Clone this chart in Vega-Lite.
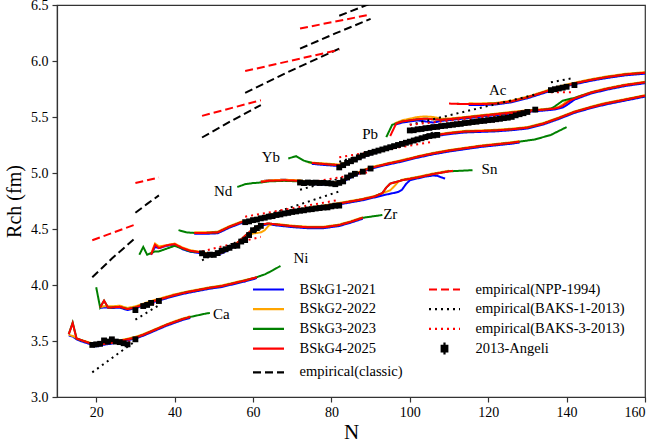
{
  "$schema": "https://vega.github.io/schema/vega-lite/v6.json",
  "width": 588,
  "height": 392,
  "autosize": {"type": "none"},
  "padding": {"left": 57, "top": 5, "right": 11, "bottom": 46},
  "config": {
    "font": "Liberation Serif, Times New Roman, serif",
    "view": {"stroke": "#333333", "strokeWidth": 1.2},
    "text": {"font": "Liberation Serif, Times New Roman, serif"},
    "axis": {
      "grid": false,
      "domainColor": "#333333",
      "domainWidth": 1.2,
      "tickColor": "#333333",
      "tickWidth": 1.2,
      "tickSize": 5,
      "labelColor": "#000000",
      "titleColor": "#000000",
      "labelFont": "Liberation Serif, Times New Roman, serif",
      "titleFont": "Liberation Serif, Times New Roman, serif",
      "labelFontSize": 14,
      "titleFontSize": 20,
      "titleFontWeight": "normal"
    },
    "legend": {
      "labelFont": "Liberation Serif, Times New Roman, serif",
      "titleFont": "Liberation Serif, Times New Roman, serif"
    }
  },
  "datasets": {
    "curves": [
      {"s":"BSkG1-2021","c":"Ca","N":13,"R":3.55},{"s":"BSkG1-2021","c":"Ca","N":14,"R":3.54},{"s":"BSkG1-2021","c":"Ca","N":15,"R":3.515},{"s":"BSkG1-2021","c":"Ca","N":16,"R":3.5},{"s":"BSkG1-2021","c":"Ca","N":18,"R":3.477},{"s":"BSkG1-2021","c":"Ca","N":20,"R":3.452},{"s":"BSkG1-2021","c":"Ca","N":22,"R":3.467},{"s":"BSkG1-2021","c":"Ca","N":24,"R":3.477},{"s":"BSkG1-2021","c":"Ca","N":26,"R":3.492},{"s":"BSkG1-2021","c":"Ca","N":28,"R":3.507},{"s":"BSkG1-2021","c":"Ca","N":30,"R":3.522},{"s":"BSkG1-2021","c":"Ca","N":32,"R":3.547},{"s":"BSkG1-2021","c":"Ca","N":34,"R":3.577},{"s":"BSkG1-2021","c":"Ca","N":36,"R":3.607},{"s":"BSkG1-2021","c":"Ca","N":38,"R":3.637},{"s":"BSkG1-2021","c":"Ca","N":40,"R":3.662},{"s":"BSkG1-2021","c":"Ca","N":42,"R":3.687},{"s":"BSkG1-2021","c":"Ca","N":44,"R":3.707},
      {"s":"BSkG1-2021","c":"Ni","N":21,"R":3.795},{"s":"BSkG1-2021","c":"Ni","N":22,"R":3.8},{"s":"BSkG1-2021","c":"Ni","N":24,"R":3.795},{"s":"BSkG1-2021","c":"Ni","N":26,"R":3.797},{"s":"BSkG1-2021","c":"Ni","N":28,"R":3.777},{"s":"BSkG1-2021","c":"Ni","N":30,"R":3.792},{"s":"BSkG1-2021","c":"Ni","N":32,"R":3.817},{"s":"BSkG1-2021","c":"Ni","N":34,"R":3.842},{"s":"BSkG1-2021","c":"Ni","N":36,"R":3.862},{"s":"BSkG1-2021","c":"Ni","N":38,"R":3.882},{"s":"BSkG1-2021","c":"Ni","N":40,"R":3.902},{"s":"BSkG1-2021","c":"Ni","N":43,"R":3.927},{"s":"BSkG1-2021","c":"Ni","N":46,"R":3.947},{"s":"BSkG1-2021","c":"Ni","N":49,"R":3.967},{"s":"BSkG1-2021","c":"Ni","N":52,"R":3.982},{"s":"BSkG1-2021","c":"Ni","N":55,"R":4.007},{"s":"BSkG1-2021","c":"Ni","N":58,"R":4.032},{"s":"BSkG1-2021","c":"Ni","N":61,"R":4.062},
      {"s":"BSkG1-2021","c":"Zr","N":34,"R":4.27},{"s":"BSkG1-2021","c":"Zr","N":35,"R":4.34},{"s":"BSkG1-2021","c":"Zr","N":36,"R":4.33},{"s":"BSkG1-2021","c":"Zr","N":38,"R":4.35},{"s":"BSkG1-2021","c":"Zr","N":40,"R":4.36},{"s":"BSkG1-2021","c":"Zr","N":42,"R":4.32},{"s":"BSkG1-2021","c":"Zr","N":44,"R":4.297},{"s":"BSkG1-2021","c":"Zr","N":46,"R":4.287},{"s":"BSkG1-2021","c":"Zr","N":48,"R":4.272},{"s":"BSkG1-2021","c":"Zr","N":50,"R":4.272},{"s":"BSkG1-2021","c":"Zr","N":52,"R":4.282},{"s":"BSkG1-2021","c":"Zr","N":54,"R":4.317},{"s":"BSkG1-2021","c":"Zr","N":56,"R":4.367},{"s":"BSkG1-2021","c":"Zr","N":58,"R":4.43},{"s":"BSkG1-2021","c":"Zr","N":60,"R":4.49},{"s":"BSkG1-2021","c":"Zr","N":62,"R":4.532},{"s":"BSkG1-2021","c":"Zr","N":64,"R":4.542},{"s":"BSkG1-2021","c":"Zr","N":66,"R":4.532},{"s":"BSkG1-2021","c":"Zr","N":70,"R":4.517},{"s":"BSkG1-2021","c":"Zr","N":74,"R":4.507},{"s":"BSkG1-2021","c":"Zr","N":78,"R":4.507},{"s":"BSkG1-2021","c":"Zr","N":82,"R":4.527},{"s":"BSkG1-2021","c":"Zr","N":85,"R":4.557},{"s":"BSkG1-2021","c":"Zr","N":88,"R":4.592},
      {"s":"BSkG1-2021","c":"Sn","N":45,"R":4.457},{"s":"BSkG1-2021","c":"Sn","N":48,"R":4.457},{"s":"BSkG1-2021","c":"Sn","N":51,"R":4.462},{"s":"BSkG1-2021","c":"Sn","N":54,"R":4.512},{"s":"BSkG1-2021","c":"Sn","N":57,"R":4.552},{"s":"BSkG1-2021","c":"Sn","N":60,"R":4.577},{"s":"BSkG1-2021","c":"Sn","N":64,"R":4.612},{"s":"BSkG1-2021","c":"Sn","N":68,"R":4.637},{"s":"BSkG1-2021","c":"Sn","N":72,"R":4.662},{"s":"BSkG1-2021","c":"Sn","N":76,"R":4.687},{"s":"BSkG1-2021","c":"Sn","N":80,"R":4.707},{"s":"BSkG1-2021","c":"Sn","N":84,"R":4.732},{"s":"BSkG1-2021","c":"Sn","N":88,"R":4.757},{"s":"BSkG1-2021","c":"Sn","N":91,"R":4.782},{"s":"BSkG1-2021","c":"Sn","N":93,"R":4.8},{"s":"BSkG1-2021","c":"Sn","N":95,"R":4.815},{"s":"BSkG1-2021","c":"Sn","N":97,"R":4.83},{"s":"BSkG1-2021","c":"Sn","N":98,"R":4.85},{"s":"BSkG1-2021","c":"Sn","N":99,"R":4.9},{"s":"BSkG1-2021","c":"Sn","N":100,"R":4.935},{"s":"BSkG1-2021","c":"Sn","N":102,"R":4.952},{"s":"BSkG1-2021","c":"Sn","N":104,"R":4.968},{"s":"BSkG1-2021","c":"Sn","N":106,"R":4.978},{"s":"BSkG1-2021","c":"Sn","N":107,"R":4.975},{"s":"BSkG1-2021","c":"Sn","N":108,"R":4.962},{"s":"BSkG1-2021","c":"Sn","N":109,"R":4.95},
      {"s":"BSkG1-2021","c":"Nd","N":62,"R":4.925},{"s":"BSkG1-2021","c":"Nd","N":64,"R":4.935},{"s":"BSkG1-2021","c":"Nd","N":68,"R":4.94},{"s":"BSkG1-2021","c":"Nd","N":72,"R":4.925},{"s":"BSkG1-2021","c":"Nd","N":74,"R":4.902},{"s":"BSkG1-2021","c":"Nd","N":78,"R":4.897},{"s":"BSkG1-2021","c":"Nd","N":82,"R":4.907},{"s":"BSkG1-2021","c":"Nd","N":84,"R":4.942},{"s":"BSkG1-2021","c":"Nd","N":86,"R":4.977},{"s":"BSkG1-2021","c":"Nd","N":88,"R":5.012},{"s":"BSkG1-2021","c":"Nd","N":90,"R":5.037},{"s":"BSkG1-2021","c":"Nd","N":94,"R":5.072},{"s":"BSkG1-2021","c":"Nd","N":98,"R":5.102},{"s":"BSkG1-2021","c":"Nd","N":102,"R":5.137},{"s":"BSkG1-2021","c":"Nd","N":106,"R":5.167},{"s":"BSkG1-2021","c":"Nd","N":110,"R":5.192},{"s":"BSkG1-2021","c":"Nd","N":114,"R":5.212},{"s":"BSkG1-2021","c":"Nd","N":118,"R":5.232},{"s":"BSkG1-2021","c":"Nd","N":122,"R":5.247},{"s":"BSkG1-2021","c":"Nd","N":126,"R":5.262},{"s":"BSkG1-2021","c":"Nd","N":128,"R":5.272},
      {"s":"BSkG1-2021","c":"Yb","N":75,"R":5.082},{"s":"BSkG1-2021","c":"Yb","N":78,"R":5.072},{"s":"BSkG1-2021","c":"Yb","N":82,"R":5.062},{"s":"BSkG1-2021","c":"Yb","N":84,"R":5.082},{"s":"BSkG1-2021","c":"Yb","N":86,"R":5.112},{"s":"BSkG1-2021","c":"Yb","N":88,"R":5.142},{"s":"BSkG1-2021","c":"Yb","N":90,"R":5.167},{"s":"BSkG1-2021","c":"Yb","N":94,"R":5.212},{"s":"BSkG1-2021","c":"Yb","N":98,"R":5.252},{"s":"BSkG1-2021","c":"Yb","N":102,"R":5.292},{"s":"BSkG1-2021","c":"Yb","N":106,"R":5.327},{"s":"BSkG1-2021","c":"Yb","N":110,"R":5.347},{"s":"BSkG1-2021","c":"Yb","N":114,"R":5.362},{"s":"BSkG1-2021","c":"Yb","N":118,"R":5.367},{"s":"BSkG1-2021","c":"Yb","N":122,"R":5.372},{"s":"BSkG1-2021","c":"Yb","N":126,"R":5.382},{"s":"BSkG1-2021","c":"Yb","N":130,"R":5.397},{"s":"BSkG1-2021","c":"Yb","N":134,"R":5.432},{"s":"BSkG1-2021","c":"Yb","N":138,"R":5.482},{"s":"BSkG1-2021","c":"Yb","N":142,"R":5.537},{"s":"BSkG1-2021","c":"Yb","N":146,"R":5.577},{"s":"BSkG1-2021","c":"Yb","N":150,"R":5.612},{"s":"BSkG1-2021","c":"Yb","N":155,"R":5.647},{"s":"BSkG1-2021","c":"Yb","N":160,"R":5.682},
      {"s":"BSkG1-2021","c":"Pb","N":96,"R":5.43},{"s":"BSkG1-2021","c":"Pb","N":98,"R":5.45},{"s":"BSkG1-2021","c":"Pb","N":100,"R":5.46},{"s":"BSkG1-2021","c":"Pb","N":102,"R":5.47},{"s":"BSkG1-2021","c":"Pb","N":104,"R":5.46},{"s":"BSkG1-2021","c":"Pb","N":106,"R":5.45},{"s":"BSkG1-2021","c":"Pb","N":108,"R":5.465},{"s":"BSkG1-2021","c":"Pb","N":110,"R":5.472},{"s":"BSkG1-2021","c":"Pb","N":114,"R":5.487},{"s":"BSkG1-2021","c":"Pb","N":118,"R":5.502},{"s":"BSkG1-2021","c":"Pb","N":122,"R":5.517},{"s":"BSkG1-2021","c":"Pb","N":126,"R":5.532},{"s":"BSkG1-2021","c":"Pb","N":130,"R":5.547},{"s":"BSkG1-2021","c":"Pb","N":134,"R":5.557},{"s":"BSkG1-2021","c":"Pb","N":137,"R":5.567},{"s":"BSkG1-2021","c":"Pb","N":138,"R":5.575},{"s":"BSkG1-2021","c":"Pb","N":139,"R":5.585},{"s":"BSkG1-2021","c":"Pb","N":140,"R":5.605},{"s":"BSkG1-2021","c":"Pb","N":141,"R":5.63},{"s":"BSkG1-2021","c":"Pb","N":142,"R":5.655},{"s":"BSkG1-2021","c":"Pb","N":146,"R":5.707},{"s":"BSkG1-2021","c":"Pb","N":150,"R":5.742},{"s":"BSkG1-2021","c":"Pb","N":155,"R":5.777},{"s":"BSkG1-2021","c":"Pb","N":160,"R":5.802},
      {"s":"BSkG1-2021","c":"Ac","N":115,"R":5.607},{"s":"BSkG1-2021","c":"Ac","N":118,"R":5.607},{"s":"BSkG1-2021","c":"Ac","N":122,"R":5.612},{"s":"BSkG1-2021","c":"Ac","N":126,"R":5.632},{"s":"BSkG1-2021","c":"Ac","N":130,"R":5.667},{"s":"BSkG1-2021","c":"Ac","N":134,"R":5.712},{"s":"BSkG1-2021","c":"Ac","N":138,"R":5.757},{"s":"BSkG1-2021","c":"Ac","N":142,"R":5.792},{"s":"BSkG1-2021","c":"Ac","N":146,"R":5.822},{"s":"BSkG1-2021","c":"Ac","N":150,"R":5.847},{"s":"BSkG1-2021","c":"Ac","N":155,"R":5.872},{"s":"BSkG1-2021","c":"Ac","N":160,"R":5.887},

      {"s":"BSkG2-2022","c":"Ca","N":13,"R":3.555},{"s":"BSkG2-2022","c":"Ca","N":14,"R":3.545},{"s":"BSkG2-2022","c":"Ca","N":15,"R":3.525},{"s":"BSkG2-2022","c":"Ca","N":16,"R":3.51},{"s":"BSkG2-2022","c":"Ca","N":18,"R":3.49},{"s":"BSkG2-2022","c":"Ca","N":20,"R":3.47},{"s":"BSkG2-2022","c":"Ca","N":22,"R":3.48},{"s":"BSkG2-2022","c":"Ca","N":24,"R":3.492},{"s":"BSkG2-2022","c":"Ca","N":26,"R":3.506},{"s":"BSkG2-2022","c":"Ca","N":28,"R":3.521},{"s":"BSkG2-2022","c":"Ca","N":30,"R":3.537},{"s":"BSkG2-2022","c":"Ca","N":32,"R":3.561},{"s":"BSkG2-2022","c":"Ca","N":34,"R":3.59},{"s":"BSkG2-2022","c":"Ca","N":36,"R":3.62},{"s":"BSkG2-2022","c":"Ca","N":38,"R":3.65},{"s":"BSkG2-2022","c":"Ca","N":40,"R":3.676},{"s":"BSkG2-2022","c":"Ca","N":42,"R":3.7},{"s":"BSkG2-2022","c":"Ca","N":44,"R":3.72},
      {"s":"BSkG2-2022","c":"Ni","N":21,"R":3.8},{"s":"BSkG2-2022","c":"Ni","N":22,"R":3.81},{"s":"BSkG2-2022","c":"Ni","N":24,"R":3.81},{"s":"BSkG2-2022","c":"Ni","N":26,"R":3.815},{"s":"BSkG2-2022","c":"Ni","N":28,"R":3.795},{"s":"BSkG2-2022","c":"Ni","N":30,"R":3.81},{"s":"BSkG2-2022","c":"Ni","N":32,"R":3.833},{"s":"BSkG2-2022","c":"Ni","N":34,"R":3.857},{"s":"BSkG2-2022","c":"Ni","N":36,"R":3.877},{"s":"BSkG2-2022","c":"Ni","N":38,"R":3.897},{"s":"BSkG2-2022","c":"Ni","N":40,"R":3.917},{"s":"BSkG2-2022","c":"Ni","N":43,"R":3.94},{"s":"BSkG2-2022","c":"Ni","N":46,"R":3.96},{"s":"BSkG2-2022","c":"Ni","N":49,"R":3.98},{"s":"BSkG2-2022","c":"Ni","N":52,"R":3.996},{"s":"BSkG2-2022","c":"Ni","N":55,"R":4.02},{"s":"BSkG2-2022","c":"Ni","N":58,"R":4.045},{"s":"BSkG2-2022","c":"Ni","N":60,"R":4.06},
      {"s":"BSkG2-2022","c":"Zr","N":34,"R":4.28},{"s":"BSkG2-2022","c":"Zr","N":35,"R":4.37},{"s":"BSkG2-2022","c":"Zr","N":36,"R":4.345},{"s":"BSkG2-2022","c":"Zr","N":38,"R":4.355},{"s":"BSkG2-2022","c":"Zr","N":40,"R":4.37},{"s":"BSkG2-2022","c":"Zr","N":42,"R":4.335},{"s":"BSkG2-2022","c":"Zr","N":44,"R":4.31},{"s":"BSkG2-2022","c":"Zr","N":46,"R":4.3},{"s":"BSkG2-2022","c":"Zr","N":48,"R":4.285},{"s":"BSkG2-2022","c":"Zr","N":50,"R":4.285},{"s":"BSkG2-2022","c":"Zr","N":52,"R":4.296},{"s":"BSkG2-2022","c":"Zr","N":54,"R":4.33},{"s":"BSkG2-2022","c":"Zr","N":56,"R":4.38},{"s":"BSkG2-2022","c":"Zr","N":58,"R":4.43},{"s":"BSkG2-2022","c":"Zr","N":60,"R":4.46},{"s":"BSkG2-2022","c":"Zr","N":62,"R":4.47},{"s":"BSkG2-2022","c":"Zr","N":63,"R":4.49},{"s":"BSkG2-2022","c":"Zr","N":64,"R":4.53},{"s":"BSkG2-2022","c":"Zr","N":65,"R":4.545},{"s":"BSkG2-2022","c":"Zr","N":66,"R":4.545},{"s":"BSkG2-2022","c":"Zr","N":70,"R":4.53},{"s":"BSkG2-2022","c":"Zr","N":74,"R":4.52},{"s":"BSkG2-2022","c":"Zr","N":78,"R":4.52},{"s":"BSkG2-2022","c":"Zr","N":82,"R":4.54},{"s":"BSkG2-2022","c":"Zr","N":85,"R":4.57},{"s":"BSkG2-2022","c":"Zr","N":88,"R":4.605},
      {"s":"BSkG2-2022","c":"Sn","N":45,"R":4.47},{"s":"BSkG2-2022","c":"Sn","N":48,"R":4.47},{"s":"BSkG2-2022","c":"Sn","N":51,"R":4.476},{"s":"BSkG2-2022","c":"Sn","N":54,"R":4.526},{"s":"BSkG2-2022","c":"Sn","N":57,"R":4.566},{"s":"BSkG2-2022","c":"Sn","N":60,"R":4.59},{"s":"BSkG2-2022","c":"Sn","N":64,"R":4.626},{"s":"BSkG2-2022","c":"Sn","N":68,"R":4.651},{"s":"BSkG2-2022","c":"Sn","N":72,"R":4.676},{"s":"BSkG2-2022","c":"Sn","N":76,"R":4.7},{"s":"BSkG2-2022","c":"Sn","N":80,"R":4.72},{"s":"BSkG2-2022","c":"Sn","N":84,"R":4.745},{"s":"BSkG2-2022","c":"Sn","N":88,"R":4.77},{"s":"BSkG2-2022","c":"Sn","N":91,"R":4.795},{"s":"BSkG2-2022","c":"Sn","N":93,"R":4.82},{"s":"BSkG2-2022","c":"Sn","N":95,"R":4.845},{"s":"BSkG2-2022","c":"Sn","N":96,"R":4.88},{"s":"BSkG2-2022","c":"Sn","N":97,"R":4.92},{"s":"BSkG2-2022","c":"Sn","N":98,"R":4.94},{"s":"BSkG2-2022","c":"Sn","N":102,"R":4.966},{"s":"BSkG2-2022","c":"Sn","N":106,"R":4.996},{"s":"BSkG2-2022","c":"Sn","N":110,"R":5.02},
      {"s":"BSkG2-2022","c":"Nd","N":62,"R":4.925},{"s":"BSkG2-2022","c":"Nd","N":64,"R":4.935},{"s":"BSkG2-2022","c":"Nd","N":68,"R":4.94},{"s":"BSkG2-2022","c":"Nd","N":72,"R":4.935},{"s":"BSkG2-2022","c":"Nd","N":74,"R":4.915},{"s":"BSkG2-2022","c":"Nd","N":78,"R":4.91},{"s":"BSkG2-2022","c":"Nd","N":82,"R":4.92},{"s":"BSkG2-2022","c":"Nd","N":84,"R":4.955},{"s":"BSkG2-2022","c":"Nd","N":86,"R":4.99},{"s":"BSkG2-2022","c":"Nd","N":88,"R":5.025},{"s":"BSkG2-2022","c":"Nd","N":90,"R":5.05},{"s":"BSkG2-2022","c":"Nd","N":94,"R":5.085},{"s":"BSkG2-2022","c":"Nd","N":98,"R":5.115},{"s":"BSkG2-2022","c":"Nd","N":102,"R":5.15},{"s":"BSkG2-2022","c":"Nd","N":106,"R":5.18},{"s":"BSkG2-2022","c":"Nd","N":110,"R":5.205},{"s":"BSkG2-2022","c":"Nd","N":114,"R":5.225},{"s":"BSkG2-2022","c":"Nd","N":118,"R":5.245},{"s":"BSkG2-2022","c":"Nd","N":122,"R":5.26},{"s":"BSkG2-2022","c":"Nd","N":126,"R":5.275},{"s":"BSkG2-2022","c":"Nd","N":128,"R":5.285},
      {"s":"BSkG2-2022","c":"Yb","N":74,"R":5.095},{"s":"BSkG2-2022","c":"Yb","N":78,"R":5.086},{"s":"BSkG2-2022","c":"Yb","N":82,"R":5.076},{"s":"BSkG2-2022","c":"Yb","N":84,"R":5.096},{"s":"BSkG2-2022","c":"Yb","N":86,"R":5.126},{"s":"BSkG2-2022","c":"Yb","N":88,"R":5.156},{"s":"BSkG2-2022","c":"Yb","N":90,"R":5.18},{"s":"BSkG2-2022","c":"Yb","N":94,"R":5.226},{"s":"BSkG2-2022","c":"Yb","N":98,"R":5.266},{"s":"BSkG2-2022","c":"Yb","N":102,"R":5.306},{"s":"BSkG2-2022","c":"Yb","N":106,"R":5.34},{"s":"BSkG2-2022","c":"Yb","N":110,"R":5.36},{"s":"BSkG2-2022","c":"Yb","N":114,"R":5.376},{"s":"BSkG2-2022","c":"Yb","N":118,"R":5.38},{"s":"BSkG2-2022","c":"Yb","N":122,"R":5.386},{"s":"BSkG2-2022","c":"Yb","N":126,"R":5.396},{"s":"BSkG2-2022","c":"Yb","N":130,"R":5.41},{"s":"BSkG2-2022","c":"Yb","N":134,"R":5.446},{"s":"BSkG2-2022","c":"Yb","N":138,"R":5.496},{"s":"BSkG2-2022","c":"Yb","N":142,"R":5.55},{"s":"BSkG2-2022","c":"Yb","N":146,"R":5.59},{"s":"BSkG2-2022","c":"Yb","N":150,"R":5.626},{"s":"BSkG2-2022","c":"Yb","N":155,"R":5.66},{"s":"BSkG2-2022","c":"Yb","N":160,"R":5.695},
      {"s":"BSkG2-2022","c":"Pb","N":96,"R":5.44},{"s":"BSkG2-2022","c":"Pb","N":98,"R":5.47},{"s":"BSkG2-2022","c":"Pb","N":100,"R":5.485},{"s":"BSkG2-2022","c":"Pb","N":102,"R":5.5},{"s":"BSkG2-2022","c":"Pb","N":104,"R":5.505},{"s":"BSkG2-2022","c":"Pb","N":106,"R":5.5},{"s":"BSkG2-2022","c":"Pb","N":108,"R":5.485},{"s":"BSkG2-2022","c":"Pb","N":110,"R":5.486},{"s":"BSkG2-2022","c":"Pb","N":114,"R":5.5},{"s":"BSkG2-2022","c":"Pb","N":118,"R":5.516},{"s":"BSkG2-2022","c":"Pb","N":122,"R":5.53},{"s":"BSkG2-2022","c":"Pb","N":126,"R":5.546},{"s":"BSkG2-2022","c":"Pb","N":130,"R":5.56},{"s":"BSkG2-2022","c":"Pb","N":134,"R":5.57},{"s":"BSkG2-2022","c":"Pb","N":137,"R":5.58},{"s":"BSkG2-2022","c":"Pb","N":138,"R":5.59},{"s":"BSkG2-2022","c":"Pb","N":139,"R":5.61},{"s":"BSkG2-2022","c":"Pb","N":140,"R":5.64},{"s":"BSkG2-2022","c":"Pb","N":142,"R":5.67},{"s":"BSkG2-2022","c":"Pb","N":146,"R":5.72},{"s":"BSkG2-2022","c":"Pb","N":150,"R":5.755},{"s":"BSkG2-2022","c":"Pb","N":155,"R":5.79},{"s":"BSkG2-2022","c":"Pb","N":160,"R":5.815},
      {"s":"BSkG2-2022","c":"Ac","N":115,"R":5.622},{"s":"BSkG2-2022","c":"Ac","N":118,"R":5.621},{"s":"BSkG2-2022","c":"Ac","N":122,"R":5.626},{"s":"BSkG2-2022","c":"Ac","N":126,"R":5.646},{"s":"BSkG2-2022","c":"Ac","N":130,"R":5.681},{"s":"BSkG2-2022","c":"Ac","N":134,"R":5.726},{"s":"BSkG2-2022","c":"Ac","N":138,"R":5.771},{"s":"BSkG2-2022","c":"Ac","N":142,"R":5.806},{"s":"BSkG2-2022","c":"Ac","N":146,"R":5.836},{"s":"BSkG2-2022","c":"Ac","N":150,"R":5.861},{"s":"BSkG2-2022","c":"Ac","N":155,"R":5.886},{"s":"BSkG2-2022","c":"Ac","N":160,"R":5.9},

      {"s":"BSkG3-2023","c":"Ca","N":13,"R":3.56},{"s":"BSkG3-2023","c":"Ca","N":14,"R":3.665},{"s":"BSkG3-2023","c":"Ca","N":15,"R":3.52},{"s":"BSkG3-2023","c":"Ca","N":16,"R":3.51},{"s":"BSkG3-2023","c":"Ca","N":18,"R":3.485},{"s":"BSkG3-2023","c":"Ca","N":20,"R":3.46},{"s":"BSkG3-2023","c":"Ca","N":22,"R":3.475},{"s":"BSkG3-2023","c":"Ca","N":24,"R":3.485},{"s":"BSkG3-2023","c":"Ca","N":26,"R":3.5},{"s":"BSkG3-2023","c":"Ca","N":28,"R":3.515},{"s":"BSkG3-2023","c":"Ca","N":30,"R":3.53},{"s":"BSkG3-2023","c":"Ca","N":32,"R":3.555},{"s":"BSkG3-2023","c":"Ca","N":34,"R":3.585},{"s":"BSkG3-2023","c":"Ca","N":36,"R":3.615},{"s":"BSkG3-2023","c":"Ca","N":38,"R":3.645},{"s":"BSkG3-2023","c":"Ca","N":40,"R":3.67},{"s":"BSkG3-2023","c":"Ca","N":42,"R":3.695},{"s":"BSkG3-2023","c":"Ca","N":44,"R":3.715},{"s":"BSkG3-2023","c":"Ca","N":46,"R":3.73},{"s":"BSkG3-2023","c":"Ca","N":48,"R":3.745},{"s":"BSkG3-2023","c":"Ca","N":49,"R":3.75},
      {"s":"BSkG3-2023","c":"Ni","N":20,"R":3.98},{"s":"BSkG3-2023","c":"Ni","N":21,"R":3.8},{"s":"BSkG3-2023","c":"Ni","N":22,"R":3.86},{"s":"BSkG3-2023","c":"Ni","N":23,"R":3.8},{"s":"BSkG3-2023","c":"Ni","N":24,"R":3.8},{"s":"BSkG3-2023","c":"Ni","N":26,"R":3.805},{"s":"BSkG3-2023","c":"Ni","N":28,"R":3.785},{"s":"BSkG3-2023","c":"Ni","N":30,"R":3.8},{"s":"BSkG3-2023","c":"Ni","N":32,"R":3.825},{"s":"BSkG3-2023","c":"Ni","N":34,"R":3.85},{"s":"BSkG3-2023","c":"Ni","N":36,"R":3.87},{"s":"BSkG3-2023","c":"Ni","N":38,"R":3.89},{"s":"BSkG3-2023","c":"Ni","N":40,"R":3.91},{"s":"BSkG3-2023","c":"Ni","N":43,"R":3.935},{"s":"BSkG3-2023","c":"Ni","N":46,"R":3.955},{"s":"BSkG3-2023","c":"Ni","N":49,"R":3.975},{"s":"BSkG3-2023","c":"Ni","N":52,"R":3.99},{"s":"BSkG3-2023","c":"Ni","N":55,"R":4.015},{"s":"BSkG3-2023","c":"Ni","N":58,"R":4.04},{"s":"BSkG3-2023","c":"Ni","N":61,"R":4.07},{"s":"BSkG3-2023","c":"Ni","N":63,"R":4.095},{"s":"BSkG3-2023","c":"Ni","N":65,"R":4.13},{"s":"BSkG3-2023","c":"Ni","N":67,"R":4.17},
      {"s":"BSkG3-2023","c":"Zr","N":31,"R":4.27},{"s":"BSkG3-2023","c":"Zr","N":32,"R":4.34},{"s":"BSkG3-2023","c":"Zr","N":33,"R":4.27},{"s":"BSkG3-2023","c":"Zr","N":34,"R":4.285},{"s":"BSkG3-2023","c":"Zr","N":35,"R":4.3},{"s":"BSkG3-2023","c":"Zr","N":36,"R":4.3},{"s":"BSkG3-2023","c":"Zr","N":38,"R":4.325},{"s":"BSkG3-2023","c":"Zr","N":40,"R":4.35},{"s":"BSkG3-2023","c":"Zr","N":42,"R":4.325},{"s":"BSkG3-2023","c":"Zr","N":44,"R":4.3},{"s":"BSkG3-2023","c":"Zr","N":46,"R":4.295},{"s":"BSkG3-2023","c":"Zr","N":48,"R":4.28},{"s":"BSkG3-2023","c":"Zr","N":50,"R":4.28},{"s":"BSkG3-2023","c":"Zr","N":52,"R":4.29},{"s":"BSkG3-2023","c":"Zr","N":54,"R":4.325},{"s":"BSkG3-2023","c":"Zr","N":56,"R":4.375},{"s":"BSkG3-2023","c":"Zr","N":58,"R":4.44},{"s":"BSkG3-2023","c":"Zr","N":60,"R":4.5},{"s":"BSkG3-2023","c":"Zr","N":62,"R":4.54},{"s":"BSkG3-2023","c":"Zr","N":64,"R":4.55},{"s":"BSkG3-2023","c":"Zr","N":66,"R":4.54},{"s":"BSkG3-2023","c":"Zr","N":70,"R":4.525},{"s":"BSkG3-2023","c":"Zr","N":74,"R":4.515},{"s":"BSkG3-2023","c":"Zr","N":78,"R":4.515},{"s":"BSkG3-2023","c":"Zr","N":82,"R":4.535},{"s":"BSkG3-2023","c":"Zr","N":85,"R":4.565},{"s":"BSkG3-2023","c":"Zr","N":88,"R":4.6},{"s":"BSkG3-2023","c":"Zr","N":90,"R":4.61},{"s":"BSkG3-2023","c":"Zr","N":93,"R":4.625},
      {"s":"BSkG3-2023","c":"Sn","N":41,"R":4.49},{"s":"BSkG3-2023","c":"Sn","N":43,"R":4.47},{"s":"BSkG3-2023","c":"Sn","N":45,"R":4.465},{"s":"BSkG3-2023","c":"Sn","N":48,"R":4.465},{"s":"BSkG3-2023","c":"Sn","N":51,"R":4.47},{"s":"BSkG3-2023","c":"Sn","N":54,"R":4.52},{"s":"BSkG3-2023","c":"Sn","N":57,"R":4.56},{"s":"BSkG3-2023","c":"Sn","N":60,"R":4.585},{"s":"BSkG3-2023","c":"Sn","N":64,"R":4.62},{"s":"BSkG3-2023","c":"Sn","N":68,"R":4.645},{"s":"BSkG3-2023","c":"Sn","N":72,"R":4.67},{"s":"BSkG3-2023","c":"Sn","N":76,"R":4.695},{"s":"BSkG3-2023","c":"Sn","N":80,"R":4.715},{"s":"BSkG3-2023","c":"Sn","N":84,"R":4.74},{"s":"BSkG3-2023","c":"Sn","N":88,"R":4.765},{"s":"BSkG3-2023","c":"Sn","N":91,"R":4.79},{"s":"BSkG3-2023","c":"Sn","N":93,"R":4.82},{"s":"BSkG3-2023","c":"Sn","N":94,"R":4.87},{"s":"BSkG3-2023","c":"Sn","N":95,"R":4.905},{"s":"BSkG3-2023","c":"Sn","N":98,"R":4.935},{"s":"BSkG3-2023","c":"Sn","N":102,"R":4.96},{"s":"BSkG3-2023","c":"Sn","N":106,"R":4.99},{"s":"BSkG3-2023","c":"Sn","N":110,"R":5.015},{"s":"BSkG3-2023","c":"Sn","N":113,"R":5.02},{"s":"BSkG3-2023","c":"Sn","N":116,"R":5.025},
      {"s":"BSkG3-2023","c":"Nd","N":56,"R":4.875},{"s":"BSkG3-2023","c":"Nd","N":58,"R":4.9},{"s":"BSkG3-2023","c":"Nd","N":60,"R":4.91},{"s":"BSkG3-2023","c":"Nd","N":62,"R":4.915},{"s":"BSkG3-2023","c":"Nd","N":64,"R":4.925},{"s":"BSkG3-2023","c":"Nd","N":68,"R":4.93},{"s":"BSkG3-2023","c":"Nd","N":72,"R":4.925},{"s":"BSkG3-2023","c":"Nd","N":74,"R":4.91},{"s":"BSkG3-2023","c":"Nd","N":78,"R":4.905},{"s":"BSkG3-2023","c":"Nd","N":82,"R":4.915},{"s":"BSkG3-2023","c":"Nd","N":84,"R":4.95},{"s":"BSkG3-2023","c":"Nd","N":86,"R":4.985},{"s":"BSkG3-2023","c":"Nd","N":88,"R":5.02},{"s":"BSkG3-2023","c":"Nd","N":90,"R":5.045},{"s":"BSkG3-2023","c":"Nd","N":94,"R":5.08},{"s":"BSkG3-2023","c":"Nd","N":98,"R":5.11},{"s":"BSkG3-2023","c":"Nd","N":102,"R":5.145},{"s":"BSkG3-2023","c":"Nd","N":106,"R":5.175},{"s":"BSkG3-2023","c":"Nd","N":110,"R":5.2},{"s":"BSkG3-2023","c":"Nd","N":114,"R":5.22},{"s":"BSkG3-2023","c":"Nd","N":118,"R":5.24},{"s":"BSkG3-2023","c":"Nd","N":122,"R":5.255},{"s":"BSkG3-2023","c":"Nd","N":126,"R":5.27},{"s":"BSkG3-2023","c":"Nd","N":128,"R":5.28},{"s":"BSkG3-2023","c":"Nd","N":132,"R":5.3},{"s":"BSkG3-2023","c":"Nd","N":136,"R":5.34},{"s":"BSkG3-2023","c":"Nd","N":140,"R":5.41},
      {"s":"BSkG3-2023","c":"Yb","N":69,"R":5.13},{"s":"BSkG3-2023","c":"Yb","N":71,"R":5.15},{"s":"BSkG3-2023","c":"Yb","N":73,"R":5.11},{"s":"BSkG3-2023","c":"Yb","N":75,"R":5.09},{"s":"BSkG3-2023","c":"Yb","N":78,"R":5.08},{"s":"BSkG3-2023","c":"Yb","N":82,"R":5.07},{"s":"BSkG3-2023","c":"Yb","N":84,"R":5.09},{"s":"BSkG3-2023","c":"Yb","N":86,"R":5.12},{"s":"BSkG3-2023","c":"Yb","N":88,"R":5.15},{"s":"BSkG3-2023","c":"Yb","N":90,"R":5.175},{"s":"BSkG3-2023","c":"Yb","N":94,"R":5.22},{"s":"BSkG3-2023","c":"Yb","N":98,"R":5.26},{"s":"BSkG3-2023","c":"Yb","N":102,"R":5.3},{"s":"BSkG3-2023","c":"Yb","N":106,"R":5.335},{"s":"BSkG3-2023","c":"Yb","N":110,"R":5.355},{"s":"BSkG3-2023","c":"Yb","N":114,"R":5.37},{"s":"BSkG3-2023","c":"Yb","N":118,"R":5.375},{"s":"BSkG3-2023","c":"Yb","N":122,"R":5.38},{"s":"BSkG3-2023","c":"Yb","N":126,"R":5.39},{"s":"BSkG3-2023","c":"Yb","N":130,"R":5.405},{"s":"BSkG3-2023","c":"Yb","N":134,"R":5.44},{"s":"BSkG3-2023","c":"Yb","N":138,"R":5.49},{"s":"BSkG3-2023","c":"Yb","N":142,"R":5.545},{"s":"BSkG3-2023","c":"Yb","N":146,"R":5.585},{"s":"BSkG3-2023","c":"Yb","N":150,"R":5.62},{"s":"BSkG3-2023","c":"Yb","N":155,"R":5.655},{"s":"BSkG3-2023","c":"Yb","N":160,"R":5.69},
      {"s":"BSkG3-2023","c":"Pb","N":94,"R":5.32},{"s":"BSkG3-2023","c":"Pb","N":95.5,"R":5.43},{"s":"BSkG3-2023","c":"Pb","N":98,"R":5.46},{"s":"BSkG3-2023","c":"Pb","N":100,"R":5.47},{"s":"BSkG3-2023","c":"Pb","N":102,"R":5.48},{"s":"BSkG3-2023","c":"Pb","N":104,"R":5.485},{"s":"BSkG3-2023","c":"Pb","N":106,"R":5.48},{"s":"BSkG3-2023","c":"Pb","N":108,"R":5.475},{"s":"BSkG3-2023","c":"Pb","N":110,"R":5.48},{"s":"BSkG3-2023","c":"Pb","N":114,"R":5.495},{"s":"BSkG3-2023","c":"Pb","N":118,"R":5.51},{"s":"BSkG3-2023","c":"Pb","N":122,"R":5.525},{"s":"BSkG3-2023","c":"Pb","N":126,"R":5.54},{"s":"BSkG3-2023","c":"Pb","N":130,"R":5.555},{"s":"BSkG3-2023","c":"Pb","N":134,"R":5.565},{"s":"BSkG3-2023","c":"Pb","N":136,"R":5.575},{"s":"BSkG3-2023","c":"Pb","N":137,"R":5.595},{"s":"BSkG3-2023","c":"Pb","N":138,"R":5.62},{"s":"BSkG3-2023","c":"Pb","N":139,"R":5.645},{"s":"BSkG3-2023","c":"Pb","N":140,"R":5.655},{"s":"BSkG3-2023","c":"Pb","N":142,"R":5.67},{"s":"BSkG3-2023","c":"Pb","N":146,"R":5.715},{"s":"BSkG3-2023","c":"Pb","N":150,"R":5.75},{"s":"BSkG3-2023","c":"Pb","N":155,"R":5.785},{"s":"BSkG3-2023","c":"Pb","N":160,"R":5.81},
      {"s":"BSkG3-2023","c":"Ac","N":112,"R":5.618},{"s":"BSkG3-2023","c":"Ac","N":114,"R":5.615},{"s":"BSkG3-2023","c":"Ac","N":118,"R":5.615},{"s":"BSkG3-2023","c":"Ac","N":122,"R":5.62},{"s":"BSkG3-2023","c":"Ac","N":126,"R":5.64},{"s":"BSkG3-2023","c":"Ac","N":130,"R":5.675},{"s":"BSkG3-2023","c":"Ac","N":134,"R":5.72},{"s":"BSkG3-2023","c":"Ac","N":138,"R":5.765},{"s":"BSkG3-2023","c":"Ac","N":142,"R":5.8},{"s":"BSkG3-2023","c":"Ac","N":146,"R":5.83},{"s":"BSkG3-2023","c":"Ac","N":150,"R":5.855},{"s":"BSkG3-2023","c":"Ac","N":155,"R":5.88},{"s":"BSkG3-2023","c":"Ac","N":160,"R":5.895},

      {"s":"BSkG4-2025","c":"Ca","N":13,"R":3.56},{"s":"BSkG4-2025","c":"Ca","N":14,"R":3.66},{"s":"BSkG4-2025","c":"Ca","N":15,"R":3.52},{"s":"BSkG4-2025","c":"Ca","N":16,"R":3.51},{"s":"BSkG4-2025","c":"Ca","N":18,"R":3.485},{"s":"BSkG4-2025","c":"Ca","N":20,"R":3.46},{"s":"BSkG4-2025","c":"Ca","N":22,"R":3.475},{"s":"BSkG4-2025","c":"Ca","N":24,"R":3.485},{"s":"BSkG4-2025","c":"Ca","N":26,"R":3.5},{"s":"BSkG4-2025","c":"Ca","N":28,"R":3.515},{"s":"BSkG4-2025","c":"Ca","N":30,"R":3.53},{"s":"BSkG4-2025","c":"Ca","N":32,"R":3.555},{"s":"BSkG4-2025","c":"Ca","N":34,"R":3.585},{"s":"BSkG4-2025","c":"Ca","N":36,"R":3.615},{"s":"BSkG4-2025","c":"Ca","N":38,"R":3.645},{"s":"BSkG4-2025","c":"Ca","N":40,"R":3.67},{"s":"BSkG4-2025","c":"Ca","N":42,"R":3.695},{"s":"BSkG4-2025","c":"Ca","N":44,"R":3.715},
      {"s":"BSkG4-2025","c":"Ni","N":21,"R":3.8},{"s":"BSkG4-2025","c":"Ni","N":22,"R":3.86},{"s":"BSkG4-2025","c":"Ni","N":23,"R":3.8},{"s":"BSkG4-2025","c":"Ni","N":24,"R":3.8},{"s":"BSkG4-2025","c":"Ni","N":26,"R":3.805},{"s":"BSkG4-2025","c":"Ni","N":28,"R":3.785},{"s":"BSkG4-2025","c":"Ni","N":30,"R":3.8},{"s":"BSkG4-2025","c":"Ni","N":32,"R":3.825},{"s":"BSkG4-2025","c":"Ni","N":34,"R":3.85},{"s":"BSkG4-2025","c":"Ni","N":36,"R":3.87},{"s":"BSkG4-2025","c":"Ni","N":38,"R":3.89},{"s":"BSkG4-2025","c":"Ni","N":40,"R":3.91},{"s":"BSkG4-2025","c":"Ni","N":43,"R":3.935},{"s":"BSkG4-2025","c":"Ni","N":46,"R":3.955},{"s":"BSkG4-2025","c":"Ni","N":49,"R":3.975},{"s":"BSkG4-2025","c":"Ni","N":52,"R":3.99},{"s":"BSkG4-2025","c":"Ni","N":55,"R":4.015},{"s":"BSkG4-2025","c":"Ni","N":58,"R":4.04},{"s":"BSkG4-2025","c":"Ni","N":61,"R":4.07},
      {"s":"BSkG4-2025","c":"Zr","N":34,"R":4.27},{"s":"BSkG4-2025","c":"Zr","N":35,"R":4.36},{"s":"BSkG4-2025","c":"Zr","N":36,"R":4.33},{"s":"BSkG4-2025","c":"Zr","N":38,"R":4.355},{"s":"BSkG4-2025","c":"Zr","N":40,"R":4.365},{"s":"BSkG4-2025","c":"Zr","N":42,"R":4.33},{"s":"BSkG4-2025","c":"Zr","N":44,"R":4.305},{"s":"BSkG4-2025","c":"Zr","N":46,"R":4.295},{"s":"BSkG4-2025","c":"Zr","N":48,"R":4.28},{"s":"BSkG4-2025","c":"Zr","N":50,"R":4.28},{"s":"BSkG4-2025","c":"Zr","N":52,"R":4.29},{"s":"BSkG4-2025","c":"Zr","N":54,"R":4.325},{"s":"BSkG4-2025","c":"Zr","N":56,"R":4.375},{"s":"BSkG4-2025","c":"Zr","N":58,"R":4.44},{"s":"BSkG4-2025","c":"Zr","N":60,"R":4.5},{"s":"BSkG4-2025","c":"Zr","N":62,"R":4.54},{"s":"BSkG4-2025","c":"Zr","N":64,"R":4.55},{"s":"BSkG4-2025","c":"Zr","N":66,"R":4.54},{"s":"BSkG4-2025","c":"Zr","N":70,"R":4.525},{"s":"BSkG4-2025","c":"Zr","N":74,"R":4.515},{"s":"BSkG4-2025","c":"Zr","N":78,"R":4.515},{"s":"BSkG4-2025","c":"Zr","N":82,"R":4.535},{"s":"BSkG4-2025","c":"Zr","N":85,"R":4.565},{"s":"BSkG4-2025","c":"Zr","N":88,"R":4.6},
      {"s":"BSkG4-2025","c":"Sn","N":45,"R":4.465},{"s":"BSkG4-2025","c":"Sn","N":48,"R":4.465},{"s":"BSkG4-2025","c":"Sn","N":51,"R":4.47},{"s":"BSkG4-2025","c":"Sn","N":54,"R":4.52},{"s":"BSkG4-2025","c":"Sn","N":57,"R":4.56},{"s":"BSkG4-2025","c":"Sn","N":60,"R":4.585},{"s":"BSkG4-2025","c":"Sn","N":64,"R":4.62},{"s":"BSkG4-2025","c":"Sn","N":68,"R":4.645},{"s":"BSkG4-2025","c":"Sn","N":72,"R":4.67},{"s":"BSkG4-2025","c":"Sn","N":76,"R":4.695},{"s":"BSkG4-2025","c":"Sn","N":80,"R":4.715},{"s":"BSkG4-2025","c":"Sn","N":84,"R":4.74},{"s":"BSkG4-2025","c":"Sn","N":88,"R":4.765},{"s":"BSkG4-2025","c":"Sn","N":91,"R":4.79},{"s":"BSkG4-2025","c":"Sn","N":93,"R":4.82},{"s":"BSkG4-2025","c":"Sn","N":94,"R":4.87},{"s":"BSkG4-2025","c":"Sn","N":95,"R":4.905},{"s":"BSkG4-2025","c":"Sn","N":98,"R":4.935},{"s":"BSkG4-2025","c":"Sn","N":102,"R":4.96},{"s":"BSkG4-2025","c":"Sn","N":106,"R":4.99},{"s":"BSkG4-2025","c":"Sn","N":110,"R":5.015},{"s":"BSkG4-2025","c":"Sn","N":111,"R":5.02},
      {"s":"BSkG4-2025","c":"Nd","N":62,"R":4.92},{"s":"BSkG4-2025","c":"Nd","N":64,"R":4.93},{"s":"BSkG4-2025","c":"Nd","N":68,"R":4.935},{"s":"BSkG4-2025","c":"Nd","N":72,"R":4.93},{"s":"BSkG4-2025","c":"Nd","N":74,"R":4.91},{"s":"BSkG4-2025","c":"Nd","N":78,"R":4.905},{"s":"BSkG4-2025","c":"Nd","N":82,"R":4.915},{"s":"BSkG4-2025","c":"Nd","N":84,"R":4.95},{"s":"BSkG4-2025","c":"Nd","N":86,"R":4.985},{"s":"BSkG4-2025","c":"Nd","N":88,"R":5.02},{"s":"BSkG4-2025","c":"Nd","N":90,"R":5.045},{"s":"BSkG4-2025","c":"Nd","N":94,"R":5.08},{"s":"BSkG4-2025","c":"Nd","N":98,"R":5.11},{"s":"BSkG4-2025","c":"Nd","N":102,"R":5.145},{"s":"BSkG4-2025","c":"Nd","N":106,"R":5.175},{"s":"BSkG4-2025","c":"Nd","N":110,"R":5.2},{"s":"BSkG4-2025","c":"Nd","N":114,"R":5.22},{"s":"BSkG4-2025","c":"Nd","N":118,"R":5.24},{"s":"BSkG4-2025","c":"Nd","N":122,"R":5.255},{"s":"BSkG4-2025","c":"Nd","N":126,"R":5.27},{"s":"BSkG4-2025","c":"Nd","N":128,"R":5.28},
      {"s":"BSkG4-2025","c":"Yb","N":75,"R":5.09},{"s":"BSkG4-2025","c":"Yb","N":78,"R":5.08},{"s":"BSkG4-2025","c":"Yb","N":82,"R":5.07},{"s":"BSkG4-2025","c":"Yb","N":84,"R":5.09},{"s":"BSkG4-2025","c":"Yb","N":86,"R":5.12},{"s":"BSkG4-2025","c":"Yb","N":88,"R":5.15},{"s":"BSkG4-2025","c":"Yb","N":90,"R":5.175},{"s":"BSkG4-2025","c":"Yb","N":94,"R":5.22},{"s":"BSkG4-2025","c":"Yb","N":98,"R":5.26},{"s":"BSkG4-2025","c":"Yb","N":102,"R":5.3},{"s":"BSkG4-2025","c":"Yb","N":106,"R":5.335},{"s":"BSkG4-2025","c":"Yb","N":110,"R":5.355},{"s":"BSkG4-2025","c":"Yb","N":114,"R":5.37},{"s":"BSkG4-2025","c":"Yb","N":118,"R":5.375},{"s":"BSkG4-2025","c":"Yb","N":122,"R":5.38},{"s":"BSkG4-2025","c":"Yb","N":126,"R":5.39},{"s":"BSkG4-2025","c":"Yb","N":130,"R":5.405},{"s":"BSkG4-2025","c":"Yb","N":134,"R":5.44},{"s":"BSkG4-2025","c":"Yb","N":138,"R":5.49},{"s":"BSkG4-2025","c":"Yb","N":142,"R":5.545},{"s":"BSkG4-2025","c":"Yb","N":146,"R":5.585},{"s":"BSkG4-2025","c":"Yb","N":150,"R":5.62},{"s":"BSkG4-2025","c":"Yb","N":155,"R":5.655},{"s":"BSkG4-2025","c":"Yb","N":160,"R":5.69},
      {"s":"BSkG4-2025","c":"Pb","N":95,"R":5.33},{"s":"BSkG4-2025","c":"Pb","N":96.5,"R":5.44},{"s":"BSkG4-2025","c":"Pb","N":98,"R":5.46},{"s":"BSkG4-2025","c":"Pb","N":100,"R":5.47},{"s":"BSkG4-2025","c":"Pb","N":102,"R":5.48},{"s":"BSkG4-2025","c":"Pb","N":104,"R":5.485},{"s":"BSkG4-2025","c":"Pb","N":106,"R":5.48},{"s":"BSkG4-2025","c":"Pb","N":108,"R":5.475},{"s":"BSkG4-2025","c":"Pb","N":110,"R":5.48},{"s":"BSkG4-2025","c":"Pb","N":114,"R":5.495},{"s":"BSkG4-2025","c":"Pb","N":118,"R":5.51},{"s":"BSkG4-2025","c":"Pb","N":122,"R":5.525},{"s":"BSkG4-2025","c":"Pb","N":126,"R":5.54},{"s":"BSkG4-2025","c":"Pb","N":130,"R":5.555},{"s":"BSkG4-2025","c":"Pb","N":134,"R":5.565},{"s":"BSkG4-2025","c":"Pb","N":137,"R":5.575},{"s":"BSkG4-2025","c":"Pb","N":138,"R":5.585},{"s":"BSkG4-2025","c":"Pb","N":139,"R":5.6},{"s":"BSkG4-2025","c":"Pb","N":140,"R":5.625},{"s":"BSkG4-2025","c":"Pb","N":141,"R":5.65},{"s":"BSkG4-2025","c":"Pb","N":142,"R":5.665},{"s":"BSkG4-2025","c":"Pb","N":146,"R":5.715},{"s":"BSkG4-2025","c":"Pb","N":150,"R":5.75},{"s":"BSkG4-2025","c":"Pb","N":155,"R":5.785},{"s":"BSkG4-2025","c":"Pb","N":160,"R":5.81},
      {"s":"BSkG4-2025","c":"Ac","N":110,"R":5.62},{"s":"BSkG4-2025","c":"Ac","N":114,"R":5.615},{"s":"BSkG4-2025","c":"Ac","N":118,"R":5.615},{"s":"BSkG4-2025","c":"Ac","N":122,"R":5.62},{"s":"BSkG4-2025","c":"Ac","N":126,"R":5.64},{"s":"BSkG4-2025","c":"Ac","N":130,"R":5.675},{"s":"BSkG4-2025","c":"Ac","N":134,"R":5.72},{"s":"BSkG4-2025","c":"Ac","N":138,"R":5.765},{"s":"BSkG4-2025","c":"Ac","N":142,"R":5.8},{"s":"BSkG4-2025","c":"Ac","N":146,"R":5.83},{"s":"BSkG4-2025","c":"Ac","N":150,"R":5.855},{"s":"BSkG4-2025","c":"Ac","N":155,"R":5.88},{"s":"BSkG4-2025","c":"Ac","N":160,"R":5.895}
    ],
    "empirical": [
      {"s":"empirical(classic)","c":"Ca","N":19,"R":4.069},{"s":"empirical(classic)","c":"Ca","N":24,"R":4.236},{"s":"empirical(classic)","c":"Ca","N":30,"R":4.421},
      {"s":"empirical(classic)","c":"Ni","N":30,"R":4.645},{"s":"empirical(classic)","c":"Ni","N":33,"R":4.724},{"s":"empirical(classic)","c":"Ni","N":36,"R":4.8},
      {"s":"empirical(classic)","c":"Zr","N":47,"R":5.317},{"s":"empirical(classic)","c":"Zr","N":54,"R":5.456},{"s":"empirical(classic)","c":"Zr","N":62,"R":5.607},
      {"s":"empirical(classic)","c":"Sn","N":58,"R":5.715},{"s":"empirical(classic)","c":"Sn","N":70,"R":5.919},{"s":"empirical(classic)","c":"Sn","N":82,"R":6.11},
      {"s":"empirical(classic)","c":"Nd","N":72,"R":6.11},{"s":"empirical(classic)","c":"Nd","N":81,"R":6.246},{"s":"empirical(classic)","c":"Nd","N":90,"R":6.376},
      {"s":"empirical(classic)","c":"Yb","N":82,"R":6.404},{"s":"empirical(classic)","c":"Yb","N":94,"R":6.568},{"s":"empirical(classic)","c":"Yb","N":106,"R":6.725},
      {"s":"empirical(NPP-1994)","c":"Ca","N":19,"R":4.4},{"s":"empirical(NPP-1994)","c":"Ca","N":30,"R":4.54},
      {"s":"empirical(NPP-1994)","c":"Ni","N":30,"R":4.91},{"s":"empirical(NPP-1994)","c":"Ni","N":36,"R":4.96},
      {"s":"empirical(NPP-1994)","c":"Zr","N":47,"R":5.51},{"s":"empirical(NPP-1994)","c":"Zr","N":62,"R":5.65},
      {"s":"empirical(NPP-1994)","c":"Sn","N":58,"R":5.91},{"s":"empirical(NPP-1994)","c":"Sn","N":82,"R":6.1},
      {"s":"empirical(NPP-1994)","c":"Nd","N":72,"R":6.29},{"s":"empirical(NPP-1994)","c":"Nd","N":90,"R":6.415},
      {"s":"empirical(BAKS-1-2013)","c":"Ca","N":19,"R":3.22},{"s":"empirical(BAKS-1-2013)","c":"Ca","N":30,"R":3.5},
      {"s":"empirical(BAKS-1-2013)","c":"Ni","N":30,"R":3.69},{"s":"empirical(BAKS-1-2013)","c":"Ni","N":36,"R":3.82},
      {"s":"empirical(BAKS-1-2013)","c":"Zr","N":47,"R":4.22},{"s":"empirical(BAKS-1-2013)","c":"Zr","N":62,"R":4.5},
      {"s":"empirical(BAKS-1-2013)","c":"Sn","N":58,"R":4.56},{"s":"empirical(BAKS-1-2013)","c":"Sn","N":82,"R":4.835},
      {"s":"empirical(BAKS-1-2013)","c":"Nd","N":72,"R":4.85},{"s":"empirical(BAKS-1-2013)","c":"Nd","N":90,"R":5.03},
      {"s":"empirical(BAKS-1-2013)","c":"Yb","N":82,"R":5.1},{"s":"empirical(BAKS-1-2013)","c":"Yb","N":106,"R":5.36},
      {"s":"empirical(BAKS-1-2013)","c":"Pb","N":100,"R":5.43},{"s":"empirical(BAKS-1-2013)","c":"Pb","N":132,"R":5.7},
      {"s":"empirical(BAKS-1-2013)","c":"Ac","N":136,"R":5.81},{"s":"empirical(BAKS-1-2013)","c":"Ac","N":142,"R":5.85},
      {"s":"empirical(BAKS-3-2013)","c":"Ca","N":19,"R":3.47},{"s":"empirical(BAKS-3-2013)","c":"Ca","N":30,"R":3.5},
      {"s":"empirical(BAKS-3-2013)","c":"Ni","N":30,"R":3.78},{"s":"empirical(BAKS-3-2013)","c":"Ni","N":36,"R":3.85},
      {"s":"empirical(BAKS-3-2013)","c":"Zr","N":47,"R":4.3},{"s":"empirical(BAKS-3-2013)","c":"Zr","N":62,"R":4.43},
      {"s":"empirical(BAKS-3-2013)","c":"Sn","N":58,"R":4.61},{"s":"empirical(BAKS-3-2013)","c":"Sn","N":82,"R":4.76},
      {"s":"empirical(BAKS-3-2013)","c":"Nd","N":72,"R":4.9},{"s":"empirical(BAKS-3-2013)","c":"Nd","N":90,"R":5.01},
      {"s":"empirical(BAKS-3-2013)","c":"Yb","N":82,"R":5.14},{"s":"empirical(BAKS-3-2013)","c":"Yb","N":106,"R":5.28},
      {"s":"empirical(BAKS-3-2013)","c":"Pb","N":100,"R":5.43},{"s":"empirical(BAKS-3-2013)","c":"Pb","N":132,"R":5.55},
      {"s":"empirical(BAKS-3-2013)","c":"Ac","N":136,"R":5.72},{"s":"empirical(BAKS-3-2013)","c":"Ac","N":142,"R":5.72}
    ],
    "angeli": [
      {"s":"2013-Angeli","c":"Ca","N":19,"R":3.465},{"s":"2013-Angeli","c":"Ca","N":20,"R":3.47},{"s":"2013-Angeli","c":"Ca","N":21,"R":3.475},{"s":"2013-Angeli","c":"Ca","N":22,"R":3.505},{"s":"2013-Angeli","c":"Ca","N":23,"R":3.495},{"s":"2013-Angeli","c":"Ca","N":24,"R":3.515},{"s":"2013-Angeli","c":"Ca","N":25,"R":3.495},{"s":"2013-Angeli","c":"Ca","N":26,"R":3.49},{"s":"2013-Angeli","c":"Ca","N":27,"R":3.48},{"s":"2013-Angeli","c":"Ca","N":28,"R":3.47},{"s":"2013-Angeli","c":"Ca","N":30,"R":3.515},
      {"s":"2013-Angeli","c":"Ni","N":30,"R":3.776},{"s":"2013-Angeli","c":"Ni","N":32,"R":3.812},{"s":"2013-Angeli","c":"Ni","N":33,"R":3.822},{"s":"2013-Angeli","c":"Ni","N":34,"R":3.84},{"s":"2013-Angeli","c":"Ni","N":36,"R":3.857},
      {"s":"2013-Angeli","c":"Zr","N":47,"R":4.283},{"s":"2013-Angeli","c":"Zr","N":48,"R":4.265},{"s":"2013-Angeli","c":"Zr","N":49,"R":4.271},{"s":"2013-Angeli","c":"Zr","N":50,"R":4.269},{"s":"2013-Angeli","c":"Zr","N":51,"R":4.285},{"s":"2013-Angeli","c":"Zr","N":52,"R":4.306},{"s":"2013-Angeli","c":"Zr","N":53,"R":4.319},{"s":"2013-Angeli","c":"Zr","N":54,"R":4.332},{"s":"2013-Angeli","c":"Zr","N":55,"R":4.349},{"s":"2013-Angeli","c":"Zr","N":56,"R":4.351},{"s":"2013-Angeli","c":"Zr","N":57,"R":4.388},{"s":"2013-Angeli","c":"Zr","N":58,"R":4.401},{"s":"2013-Angeli","c":"Zr","N":59,"R":4.446},{"s":"2013-Angeli","c":"Zr","N":60,"R":4.489},{"s":"2013-Angeli","c":"Zr","N":61,"R":4.508},{"s":"2013-Angeli","c":"Zr","N":62,"R":4.528},
      {"s":"2013-Angeli","c":"Sn","N":58,"R":4.561},{"s":"2013-Angeli","c":"Sn","N":59,"R":4.568},{"s":"2013-Angeli","c":"Sn","N":60,"R":4.579},{"s":"2013-Angeli","c":"Sn","N":61,"R":4.584},{"s":"2013-Angeli","c":"Sn","N":62,"R":4.595},{"s":"2013-Angeli","c":"Sn","N":63,"R":4.601},{"s":"2013-Angeli","c":"Sn","N":64,"R":4.61},{"s":"2013-Angeli","c":"Sn","N":65,"R":4.615},{"s":"2013-Angeli","c":"Sn","N":66,"R":4.625},{"s":"2013-Angeli","c":"Sn","N":67,"R":4.63},{"s":"2013-Angeli","c":"Sn","N":68,"R":4.639},{"s":"2013-Angeli","c":"Sn","N":69,"R":4.644},{"s":"2013-Angeli","c":"Sn","N":70,"R":4.652},{"s":"2013-Angeli","c":"Sn","N":71,"R":4.657},{"s":"2013-Angeli","c":"Sn","N":72,"R":4.663},{"s":"2013-Angeli","c":"Sn","N":73,"R":4.667},{"s":"2013-Angeli","c":"Sn","N":74,"R":4.674},{"s":"2013-Angeli","c":"Sn","N":75,"R":4.677},{"s":"2013-Angeli","c":"Sn","N":76,"R":4.683},{"s":"2013-Angeli","c":"Sn","N":77,"R":4.687},{"s":"2013-Angeli","c":"Sn","N":78,"R":4.692},{"s":"2013-Angeli","c":"Sn","N":79,"R":4.693},{"s":"2013-Angeli","c":"Sn","N":80,"R":4.702},{"s":"2013-Angeli","c":"Sn","N":81,"R":4.708},{"s":"2013-Angeli","c":"Sn","N":82,"R":4.709},
      {"s":"2013-Angeli","c":"Nd","N":72,"R":4.915},{"s":"2013-Angeli","c":"Nd","N":73,"R":4.91},{"s":"2013-Angeli","c":"Nd","N":74,"R":4.915},{"s":"2013-Angeli","c":"Nd","N":75,"R":4.912},{"s":"2013-Angeli","c":"Nd","N":76,"R":4.914},{"s":"2013-Angeli","c":"Nd","N":77,"R":4.911},{"s":"2013-Angeli","c":"Nd","N":78,"R":4.912},{"s":"2013-Angeli","c":"Nd","N":79,"R":4.909},{"s":"2013-Angeli","c":"Nd","N":80,"R":4.906},{"s":"2013-Angeli","c":"Nd","N":81,"R":4.9},{"s":"2013-Angeli","c":"Nd","N":82,"R":4.912},{"s":"2013-Angeli","c":"Nd","N":83,"R":4.925},{"s":"2013-Angeli","c":"Nd","N":84,"R":4.96},{"s":"2013-Angeli","c":"Nd","N":85,"R":4.978},{"s":"2013-Angeli","c":"Nd","N":86,"R":4.993},{"s":"2013-Angeli","c":"Nd","N":88,"R":5.012},{"s":"2013-Angeli","c":"Nd","N":90,"R":5.04},
      {"s":"2013-Angeli","c":"Yb","N":82,"R":5.05},{"s":"2013-Angeli","c":"Yb","N":83,"R":5.07},{"s":"2013-Angeli","c":"Yb","N":84,"R":5.09},{"s":"2013-Angeli","c":"Yb","N":85,"R":5.105},{"s":"2013-Angeli","c":"Yb","N":86,"R":5.12},{"s":"2013-Angeli","c":"Yb","N":87,"R":5.14},{"s":"2013-Angeli","c":"Yb","N":88,"R":5.155},{"s":"2013-Angeli","c":"Yb","N":89,"R":5.17},{"s":"2013-Angeli","c":"Yb","N":90,"R":5.18},{"s":"2013-Angeli","c":"Yb","N":91,"R":5.19},{"s":"2013-Angeli","c":"Yb","N":92,"R":5.2},{"s":"2013-Angeli","c":"Yb","N":93,"R":5.21},{"s":"2013-Angeli","c":"Yb","N":94,"R":5.22},{"s":"2013-Angeli","c":"Yb","N":95,"R":5.23},{"s":"2013-Angeli","c":"Yb","N":96,"R":5.24},{"s":"2013-Angeli","c":"Yb","N":97,"R":5.25},{"s":"2013-Angeli","c":"Yb","N":98,"R":5.26},{"s":"2013-Angeli","c":"Yb","N":99,"R":5.27},{"s":"2013-Angeli","c":"Yb","N":100,"R":5.28},{"s":"2013-Angeli","c":"Yb","N":101,"R":5.29},{"s":"2013-Angeli","c":"Yb","N":102,"R":5.3},{"s":"2013-Angeli","c":"Yb","N":103,"R":5.31},{"s":"2013-Angeli","c":"Yb","N":104,"R":5.32},{"s":"2013-Angeli","c":"Yb","N":105,"R":5.33},{"s":"2013-Angeli","c":"Yb","N":106,"R":5.335},{"s":"2013-Angeli","c":"Yb","N":107,"R":5.34},
      {"s":"2013-Angeli","c":"Pb","N":100,"R":5.38},{"s":"2013-Angeli","c":"Pb","N":101,"R":5.382},{"s":"2013-Angeli","c":"Pb","N":102,"R":5.39},{"s":"2013-Angeli","c":"Pb","N":103,"R":5.393},{"s":"2013-Angeli","c":"Pb","N":104,"R":5.4},{"s":"2013-Angeli","c":"Pb","N":105,"R":5.403},{"s":"2013-Angeli","c":"Pb","N":106,"R":5.41},{"s":"2013-Angeli","c":"Pb","N":107,"R":5.412},{"s":"2013-Angeli","c":"Pb","N":108,"R":5.419},{"s":"2013-Angeli","c":"Pb","N":109,"R":5.422},{"s":"2013-Angeli","c":"Pb","N":110,"R":5.427},{"s":"2013-Angeli","c":"Pb","N":111,"R":5.431},{"s":"2013-Angeli","c":"Pb","N":112,"R":5.436},{"s":"2013-Angeli","c":"Pb","N":113,"R":5.439},{"s":"2013-Angeli","c":"Pb","N":114,"R":5.446},{"s":"2013-Angeli","c":"Pb","N":115,"R":5.449},{"s":"2013-Angeli","c":"Pb","N":116,"R":5.455},{"s":"2013-Angeli","c":"Pb","N":117,"R":5.458},{"s":"2013-Angeli","c":"Pb","N":118,"R":5.464},{"s":"2013-Angeli","c":"Pb","N":119,"R":5.466},{"s":"2013-Angeli","c":"Pb","N":120,"R":5.472},{"s":"2013-Angeli","c":"Pb","N":121,"R":5.474},{"s":"2013-Angeli","c":"Pb","N":122,"R":5.48},{"s":"2013-Angeli","c":"Pb","N":123,"R":5.484},{"s":"2013-Angeli","c":"Pb","N":124,"R":5.49},{"s":"2013-Angeli","c":"Pb","N":125,"R":5.494},{"s":"2013-Angeli","c":"Pb","N":126,"R":5.501},{"s":"2013-Angeli","c":"Pb","N":127,"R":5.515},{"s":"2013-Angeli","c":"Pb","N":128,"R":5.525},{"s":"2013-Angeli","c":"Pb","N":129,"R":5.534},{"s":"2013-Angeli","c":"Pb","N":130,"R":5.545},{"s":"2013-Angeli","c":"Pb","N":132,"R":5.566},
      {"s":"2013-Angeli","c":"Ac","N":136,"R":5.74},{"s":"2013-Angeli","c":"Ac","N":137,"R":5.748},{"s":"2013-Angeli","c":"Ac","N":138,"R":5.755},{"s":"2013-Angeli","c":"Ac","N":139,"R":5.762},{"s":"2013-Angeli","c":"Ac","N":140,"R":5.77},{"s":"2013-Angeli","c":"Ac","N":142,"R":5.785}
    ],
    "chains": [
      {"c":"Ca","N":49.8,"R":3.745},
      {"c":"Ni","N":70.3,"R":4.245},
      {"c":"Zr","N":93.2,"R":4.63},
      {"c":"Sn","N":118.3,"R":5.04},
      {"c":"Ac","N":120.2,"R":5.74},
      {"c":"Nd","N":54.7,"R":4.84},
      {"c":"Yb","N":66.9,"R":5.14},
      {"c":"Pb","N":91.9,"R":5.35}
    ]
  },
  "encoding": {
    "x": {
      "field": "N",
      "type": "quantitative",
      "scale": {"domain": [10, 160], "nice": false, "zero": false},
      "axis": {"values": [20, 40, 60, 80, 100, 120, 140, 160], "title": "N", "labelPadding": 3, "titlePadding": 2, "titleFontSize": 21, "labelFont": "Liberation Serif, Times New Roman, serif", "titleFont": "Liberation Serif, Times New Roman, serif"}
    },
    "y": {
      "field": "R",
      "type": "quantitative",
      "scale": {"domain": [3, 6.5], "nice": false, "zero": false},
      "axis": {"values": [3, 3.5, 4, 4.5, 5, 5.5, 6, 6.5], "format": ".1f", "title": "Rch (fm)", "labelPadding": 4, "titlePadding": 6, "labelFont": "Liberation Serif, Times New Roman, serif", "titleFont": "Liberation Serif, Times New Roman, serif"}
    }
  },
  "layer": [
    {
      "data": {"name": "curves"},
      "transform": [{"filter": "datum.s === 'BSkG1-2021'"}],
      "mark": {"type": "line", "strokeWidth": 2, "clip": true},
      "encoding": {
        "detail": {"field": "c"},
        "color": {
          "field": "s", "type": "nominal",
          "scale": {
            "domain": ["BSkG1-2021", "BSkG2-2022", "BSkG3-2023", "BSkG4-2025", "empirical(classic)", "empirical(NPP-1994)", "empirical(BAKS-1-2013)", "empirical(BAKS-3-2013)", "2013-Angeli"],
            "range": ["#0000ff", "#ffa500", "#008000", "#ff0000", "#000000", "#ff0000", "#000000", "#ff0000", "#000000"]
          },
          "legend": {
            "title": null,
            "orient": "none",
            "legendX": 200,
            "legendY": 273,
            "columns": 2,
            "columnPadding": 21,
            "rowPadding": 1.7,
            "padding": 0,
            "symbolSize": 400,
            "symbolStrokeWidth": 2.2,
            "labelOffset": 19.5,
            "labelFont": "Liberation Serif, Times New Roman, serif",
            "labelFontSize": 14.5,
            "labelColor": "#000000",
            "labelLimit": 250,
            "encode": {
              "symbols": {
                "update": {
                  "shape": {"signal": "datum.value === '2013-Angeli' ? 'M-0.28,-0.28H0.28V0.28H-0.28Z M0,-0.6V0.6' : 'M-1.55,0H1.55'"},
                  "fill": {"signal": "datum.value === '2013-Angeli' ? '#000000' : 'transparent'"},
                  "fillOpacity": {"value": 1},
                  "strokeWidth": {"value": 2.2}
                }
              },
              "labels": {
                "update": {
                  "font": {"value": "Liberation Serif, Times New Roman, serif"}
                }
              }
            }
          }
        },
        "strokeDash": {
          "field": "s", "type": "nominal",
          "scale": {
            "domain": ["BSkG1-2021", "BSkG2-2022", "BSkG3-2023", "BSkG4-2025", "empirical(classic)", "empirical(NPP-1994)", "empirical(BAKS-1-2013)", "empirical(BAKS-3-2013)", "2013-Angeli"],
            "range": [[1, 0], [1, 0], [1, 0], [1, 0], [8, 4], [8, 4], [2, 4], [2, 4], [1, 0]]
          }
        }
      }
    },
    {
      "data": {"name": "curves"},
      "transform": [{"filter": "datum.s === 'BSkG2-2022'"}],
      "mark": {"type": "line", "strokeWidth": 2, "clip": true},
      "encoding": {
        "detail": {"field": "c"},
        "color": {"field": "s", "type": "nominal"},
        "strokeDash": {"field": "s", "type": "nominal"}
      }
    },
    {
      "data": {"name": "curves"},
      "transform": [{"filter": "datum.s === 'BSkG3-2023'"}],
      "mark": {"type": "line", "strokeWidth": 2, "clip": true},
      "encoding": {
        "detail": {"field": "c"},
        "color": {"field": "s", "type": "nominal"},
        "strokeDash": {"field": "s", "type": "nominal"}
      }
    },
    {
      "data": {"name": "curves"},
      "transform": [{"filter": "datum.s === 'BSkG4-2025'"}],
      "mark": {"type": "line", "strokeWidth": 2, "clip": true},
      "encoding": {
        "detail": {"field": "c"},
        "color": {"field": "s", "type": "nominal"},
        "strokeDash": {"field": "s", "type": "nominal"}
      }
    },
    {
      "data": {"name": "empirical"},
      "mark": {"type": "line", "strokeWidth": 2, "clip": true},
      "encoding": {
        "detail": {"field": "c"},
        "color": {"field": "s", "type": "nominal"},
        "strokeDash": {"field": "s", "type": "nominal"}
      }
    },
    {
      "data": {"name": "angeli"},
      "mark": {"type": "square", "size": 34, "filled": true, "opacity": 1},
      "encoding": {
        "color": {"field": "s", "type": "nominal"}
      }
    },
    {
      "data": {"name": "chains"},
      "transform": [{"filter": {"field": "c", "oneOf": ["Ca", "Ni", "Zr", "Sn", "Ac"]}}],
      "mark": {"type": "text", "align": "left", "baseline": "middle", "font": "Liberation Serif, Times New Roman, serif", "fontSize": 15, "color": "#000000"},
      "encoding": {"text": {"field": "c"}}
    },
    {
      "data": {"name": "chains"},
      "transform": [{"filter": {"field": "c", "oneOf": ["Nd", "Yb", "Pb"]}}],
      "mark": {"type": "text", "align": "right", "baseline": "middle", "font": "Liberation Serif, Times New Roman, serif", "fontSize": 15, "color": "#000000"},
      "encoding": {"text": {"field": "c"}}
    }
  ]
}
